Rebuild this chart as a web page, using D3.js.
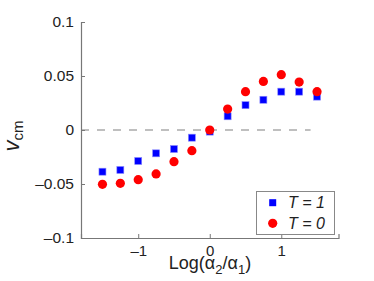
<!DOCTYPE html>
<html><head><meta charset="utf-8">
<script src="https://cdn.jsdelivr.net/npm/d3@7"></script>
<style>body{margin:0;background:#fff;} text{font-family:"Liberation Sans",Arial,sans-serif;fill:#222;}</style>
</head><body>
<svg id="c" width="374" height="281"></svg>
<script>
const xVals = [-1.5,-1.25,-1,-0.75,-0.5,-0.25,0,0.25,0.5,0.75,1,1.25,1.5];
const t1Vals = [-0.0386,-0.037,-0.0287,-0.0216,-0.0176,-0.0071,-0.0015,0.0127,0.023,0.028,0.0355,0.0355,0.0309];
const t0Vals = [-0.0503,-0.0494,-0.046,-0.0407,-0.0293,-0.0191,0.0,0.0194,0.0355,0.045,0.0512,0.0444,0.0355];
const xTicks = [-1,0,1];
const yTicks = [-0.1,-0.05,0,0.05,0.1];
const legendLabels = ["T = 1","T = 0"];

const svg = d3.select("#c");
const x = d3.scaleLinear().domain([-1.8,1.8]).range([81,338.5]);
const y = d3.scaleLinear().domain([-0.1,0.1]).range([238,22]);
const axisColor = "#777";
const fmt = v => v===0 ? "0" : (v<0 ? "\u2013" : "") + String(Math.abs(v)).replace(/^0\./,"0.");

// zero dashed line
svg.append("line").attr("x1",x(-1.8)).attr("x2",x(1.41)).attr("y1",y(0)).attr("y2",y(0))
  .attr("stroke","#aaa").attr("stroke-width",1.5).attr("stroke-dasharray","8,8");

// y axis
const ya = svg.append("g").attr("transform",`translate(${x(-1.8)},0)`)
  .call(d3.axisLeft(y).tickValues(yTicks).tickSize(-4).tickPadding(7).tickFormat(fmt));
ya.select(".domain").attr("stroke",axisColor).attr("stroke-width",1.2);
ya.selectAll(".tick line").attr("stroke",axisColor);
ya.selectAll("text").style("font-size","15.5px").attr("fill","#222");

// x axis
const xa = svg.append("g").attr("transform",`translate(0,${y(-0.1)})`)
  .call(d3.axisBottom(x).tickValues(xTicks).tickSize(-4).tickPadding(7).tickFormat(fmt));
xa.select(".domain").attr("stroke",axisColor).attr("stroke-width",1.2);
xa.selectAll(".tick line").attr("stroke",axisColor);
xa.selectAll("text").style("font-size","15px").attr("fill","#222");

// data
svg.append("g").selectAll("rect").data(xVals).join("rect")
  .attr("x",(d,i)=>x(d)-3.5).attr("y",(d,i)=>y(t1Vals[i])-3.5).attr("width",7).attr("height",7)
  .attr("fill","#0000ff").attr("stroke","#8a8aff").attr("stroke-width",0.6);
svg.append("g").selectAll("circle").data(xVals).join("circle")
  .attr("cx",d=>x(d)).attr("cy",(d,i)=>y(t0Vals[i])).attr("r",4.6)
  .attr("fill","#ff0000");

// legend
svg.append("rect").attr("x",256.5).attr("y",191.5).attr("width",78).attr("height",43)
  .attr("fill","#fff").attr("stroke","#888").attr("stroke-width",1);
svg.append("rect").attr("x",272.7-3.5).attr("y",202.7-3.5).attr("width",7).attr("height",7).attr("fill","#0000ff");
svg.append("circle").attr("cx",272.7).attr("cy",223.3).attr("r",4.6).attr("fill","#ff0000");
legendLabels.forEach((t,i)=>{
  svg.append("text").attr("x",288).attr("y",[208,229][i]).style("font-size","16px")
    .style("font-style","italic").text(t);
});

// x label
const xl = svg.append("text").attr("x",210).attr("y",269).attr("text-anchor","middle").style("font-size","18px");
xl.append("tspan").text("Log(\u03b1");
xl.append("tspan").attr("dy",5).style("font-size","13px").text("2");
xl.append("tspan").attr("dy",-5).text("/\u03b1");
xl.append("tspan").attr("dy",5).style("font-size","13px").text("1");
xl.append("tspan").attr("dy",-5).text(")");

// y label
const yl = svg.append("text").attr("transform","translate(19,136) rotate(-90)").attr("text-anchor","middle");
yl.append("tspan").style("font-size","22px").style("font-style","italic").text("v");
yl.append("tspan").attr("dy",4).style("font-size","15px").text("cm");
</script>
</body></html>
